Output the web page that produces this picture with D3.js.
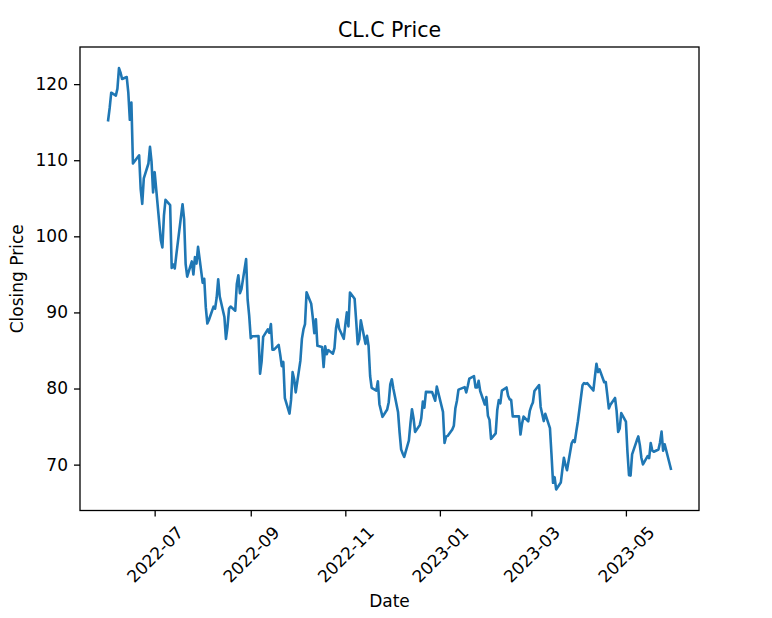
<!DOCTYPE html>
<html>
<head>
<meta charset="utf-8">
<script src="https://cdn.jsdelivr.net/npm/d3@7"></script>
<style>
  html, body { margin: 0; padding: 0; background: #fff; }
  svg { display: block; }
  text { font-family: "DejaVu Sans", sans-serif; fill: #000; }
</style>
</head>
<body>
<svg id="chart" width="772" height="618"></svg>
<script>
const chartTitle = "CL.C Price";
const xLabel = "Date";
const yLabel = "Closing Price";

const dates = [
  "2022-06-01","2022-06-02","2022-06-03","2022-06-06","2022-06-07","2022-06-08","2022-06-09","2022-06-10",
  "2022-06-13","2022-06-14","2022-06-15","2022-06-16","2022-06-17","2022-06-21","2022-06-22","2022-06-23",
  "2022-06-24","2022-06-27","2022-06-28","2022-06-29","2022-06-30",
  "2022-07-01","2022-07-05","2022-07-06","2022-07-07","2022-07-08","2022-07-11","2022-07-12","2022-07-13",
  "2022-07-14","2022-07-15","2022-07-18","2022-07-19","2022-07-20","2022-07-21","2022-07-22","2022-07-25",
  "2022-07-26","2022-07-27","2022-07-28","2022-07-29",
  "2022-08-01","2022-08-02","2022-08-03","2022-08-04","2022-08-05","2022-08-08","2022-08-09","2022-08-10",
  "2022-08-11","2022-08-12","2022-08-15","2022-08-16","2022-08-17","2022-08-18","2022-08-19","2022-08-22",
  "2022-08-23","2022-08-24","2022-08-25","2022-08-26","2022-08-29","2022-08-30","2022-08-31",
  "2022-09-01","2022-09-02","2022-09-06","2022-09-07","2022-09-08","2022-09-09","2022-09-12","2022-09-13",
  "2022-09-14","2022-09-15","2022-09-16","2022-09-19","2022-09-20","2022-09-21","2022-09-22","2022-09-23",
  "2022-09-26","2022-09-27","2022-09-28","2022-09-29","2022-09-30",
  "2022-10-03","2022-10-04","2022-10-05","2022-10-06","2022-10-07","2022-10-10","2022-10-11","2022-10-12",
  "2022-10-13","2022-10-14","2022-10-17","2022-10-18","2022-10-19","2022-10-20","2022-10-21","2022-10-24",
  "2022-10-25","2022-10-26","2022-10-27","2022-10-28","2022-10-31",
  "2022-11-01","2022-11-02","2022-11-03","2022-11-04","2022-11-07","2022-11-08","2022-11-09","2022-11-10",
  "2022-11-11","2022-11-14","2022-11-15","2022-11-16","2022-11-17","2022-11-18","2022-11-21","2022-11-22",
  "2022-11-23","2022-11-25","2022-11-28","2022-11-29","2022-11-30",
  "2022-12-01","2022-12-02","2022-12-05","2022-12-06","2022-12-07","2022-12-08","2022-12-09","2022-12-12",
  "2022-12-13","2022-12-14","2022-12-15","2022-12-16","2022-12-19","2022-12-20","2022-12-21","2022-12-22",
  "2022-12-23","2022-12-27","2022-12-28","2022-12-29","2022-12-30",
  "2023-01-03","2023-01-04","2023-01-05","2023-01-06","2023-01-09","2023-01-10","2023-01-11","2023-01-12",
  "2023-01-13","2023-01-17","2023-01-18","2023-01-19","2023-01-20","2023-01-23","2023-01-24","2023-01-25",
  "2023-01-26","2023-01-27","2023-01-30","2023-01-31",
  "2023-02-01","2023-02-02","2023-02-03","2023-02-06","2023-02-07","2023-02-08","2023-02-09","2023-02-10",
  "2023-02-13","2023-02-14","2023-02-15","2023-02-16","2023-02-17","2023-02-21","2023-02-22","2023-02-23",
  "2023-02-24","2023-02-27","2023-02-28",
  "2023-03-01","2023-03-02","2023-03-03","2023-03-06","2023-03-07","2023-03-08","2023-03-09","2023-03-10",
  "2023-03-13","2023-03-14","2023-03-15","2023-03-16","2023-03-17","2023-03-20","2023-03-21","2023-03-22",
  "2023-03-23","2023-03-24","2023-03-27","2023-03-28","2023-03-29","2023-03-30","2023-03-31",
  "2023-04-03","2023-04-04","2023-04-05","2023-04-06","2023-04-10","2023-04-11","2023-04-12","2023-04-13",
  "2023-04-14","2023-04-17","2023-04-18","2023-04-19","2023-04-20","2023-04-21","2023-04-24","2023-04-25",
  "2023-04-26","2023-04-27","2023-04-28",
  "2023-05-01","2023-05-02","2023-05-03","2023-05-04","2023-05-05","2023-05-08","2023-05-09","2023-05-10",
  "2023-05-11","2023-05-12","2023-05-15","2023-05-16","2023-05-17","2023-05-18","2023-05-19","2023-05-22",
  "2023-05-23","2023-05-24","2023-05-25","2023-05-26","2023-05-30"
];

const closes = [
  115.26,116.87,118.87,118.50,119.41,122.11,121.51,120.67,
  120.93,118.93,115.31,117.59,109.56,110.65,106.19,104.27,
  107.62,109.57,111.76,109.78,105.76,
  108.43,99.50,98.53,102.73,104.79,104.09,95.84,96.30,
  95.78,97.59,102.60,104.22,102.26,96.35,94.70,96.70,
  94.98,97.26,96.42,98.62,
  93.89,94.42,90.66,88.54,89.01,90.76,90.50,91.93,
  94.34,92.09,89.41,86.53,88.11,90.50,90.77,90.23,
  93.74,94.89,92.52,93.06,97.01,91.64,89.55,
  86.61,86.87,86.88,81.94,83.54,86.79,87.78,87.31,
  88.48,85.10,85.11,85.73,84.45,82.94,83.49,78.74,
  76.71,78.50,82.15,81.23,79.49,
  83.63,86.52,87.76,88.45,92.64,91.13,89.35,87.27,
  89.11,85.61,85.46,82.82,85.55,84.51,85.05,84.58,
  85.32,87.91,89.08,87.90,86.53,
  88.37,90.00,88.17,92.61,91.79,88.91,85.83,86.47,
  88.96,85.87,86.92,85.59,81.64,80.08,79.73,80.95,
  77.94,76.28,77.24,78.20,80.55,
  81.22,79.98,76.93,74.25,72.01,71.46,71.02,73.17,
  75.39,77.28,76.11,74.29,75.19,76.09,78.29,77.49,
  79.56,79.53,78.96,78.40,80.26,
  76.93,72.84,73.67,73.77,74.63,75.12,77.41,78.39,
  79.86,80.18,79.48,80.33,81.31,81.62,80.13,80.15,
  81.01,79.68,77.90,78.87,
  76.41,75.88,73.39,74.11,77.14,78.47,78.06,79.72,
  80.14,79.06,78.59,78.49,76.34,76.36,73.95,75.39,
  76.32,75.68,77.05,
  77.69,78.16,79.68,80.46,77.58,76.66,75.72,76.68,
  74.80,71.33,67.61,68.35,66.74,67.64,69.33,70.90,
  69.96,69.26,72.81,73.20,72.97,74.37,75.67,
  80.42,80.71,80.61,80.70,79.74,81.53,83.26,82.16,
  82.52,80.83,80.86,79.16,77.37,77.87,78.76,77.07,
  74.30,74.76,76.78,
  75.66,71.66,68.60,68.56,71.34,73.16,73.71,72.56,
  70.87,70.04,71.11,70.86,72.83,71.86,71.69,71.99,
  72.91,74.34,71.83,72.67,69.46
];

const yTicks = [70, 80, 90, 100, 110, 120];
const xTickLabels = ["2022-07", "2022-09", "2022-11", "2023-01", "2023-03", "2023-05"];

(function () {
  // ---- layout ----
  const W = 772, H = 618;
  const mLeft = 80, mRight = 699, mTop = 47, mBottom = 510.5;
  const parse = d3.utcParse("%Y-%m-%d");
  const parseMonth = d3.utcParse("%Y-%m");
  const data = dates.map((d, i) => ({ date: parse(d), value: closes[i] }));

  // matplotlib-like 5% margins
  const xExt = d3.extent(data, d => d.date.getTime());
  const xPad = (xExt[1] - xExt[0]) * 0.05;
  const yExt = d3.extent(data, d => d.value);
  const yPad = (yExt[1] - yExt[0]) * 0.05;

  const x = d3.scaleUtc()
    .domain([new Date(xExt[0] - xPad), new Date(xExt[1] + xPad)])
    .range([mLeft, mRight]);
  const y = d3.scaleLinear()
    .domain([yExt[0] - yPad, yExt[1] + yPad])
    .range([mBottom, mTop]);

  const svg = d3.select("#chart");
  svg.append("rect").attr("width", W).attr("height", H).attr("fill", "#fff");

  // line
  const line = d3.line().x(d => x(d.date)).y(d => y(d.value));
  svg.append("path")
    .datum(data)
    .attr("fill", "none")
    .attr("stroke", "#1f77b4")
    .attr("stroke-width", 2.6)
    .attr("stroke-linejoin", "round")
    .attr("stroke-linecap", "square")
    .attr("d", line);

  // frame
  svg.append("rect")
    .attr("x", mLeft).attr("y", mTop)
    .attr("width", mRight - mLeft).attr("height", mBottom - mTop)
    .attr("fill", "none").attr("stroke", "#000").attr("stroke-width", 1.3);

  // y axis
  const yAxis = d3.axisLeft(y).tickValues(yTicks).tickSize(6).tickPadding(6).tickFormat(d3.format("d"));
  const gy = svg.append("g").attr("transform", `translate(${mLeft},0)`).call(yAxis);
  gy.select(".domain").remove();
  gy.selectAll(".tick line").attr("stroke", "#000").attr("stroke-width", 1.3);
  gy.selectAll(".tick text")
    .style("font-family", "'DejaVu Sans', sans-serif")
    .style("font-size", "17px")
    .attr("fill", "#000");

  // x axis
  const xTickDates = xTickLabels.map(s => parseMonth(s));
  const xAxis = d3.axisBottom(x).tickValues(xTickDates).tickSize(6).tickFormat(d3.utcFormat("%Y-%m"));
  const gx = svg.append("g").attr("transform", `translate(0,${mBottom})`).call(xAxis);
  gx.select(".domain").remove();
  gx.selectAll(".tick line").attr("stroke", "#000").attr("stroke-width", 1.3);
  gx.selectAll(".tick text")
    .style("font-family", "'DejaVu Sans', sans-serif")
    .style("font-size", "17px")
    .attr("fill", "#000")
    .attr("x", 0)
    .attr("y", 0)
    .attr("dy", null)
    .attr("text-anchor", "middle")
    .attr("dominant-baseline", "central")
    .attr("transform", "translate(0,44) rotate(-45)");

  // title
  svg.append("text")
    .attr("x", (mLeft + mRight) / 2).attr("y", 36.5)
    .attr("text-anchor", "middle")
    .style("font-size", "20.5px")
    .text(chartTitle);

  // axis labels
  svg.append("text")
    .attr("x", (mLeft + mRight) / 2).attr("y", 607)
    .attr("text-anchor", "middle")
    .style("font-size", "17px")
    .text(xLabel);

  svg.append("text")
    .attr("transform", `translate(23,${(mTop + mBottom) / 2}) rotate(-90)`)
    .attr("text-anchor", "middle")
    .style("font-size", "17px")
    .text(yLabel);
})();
</script>
</body>
</html>
